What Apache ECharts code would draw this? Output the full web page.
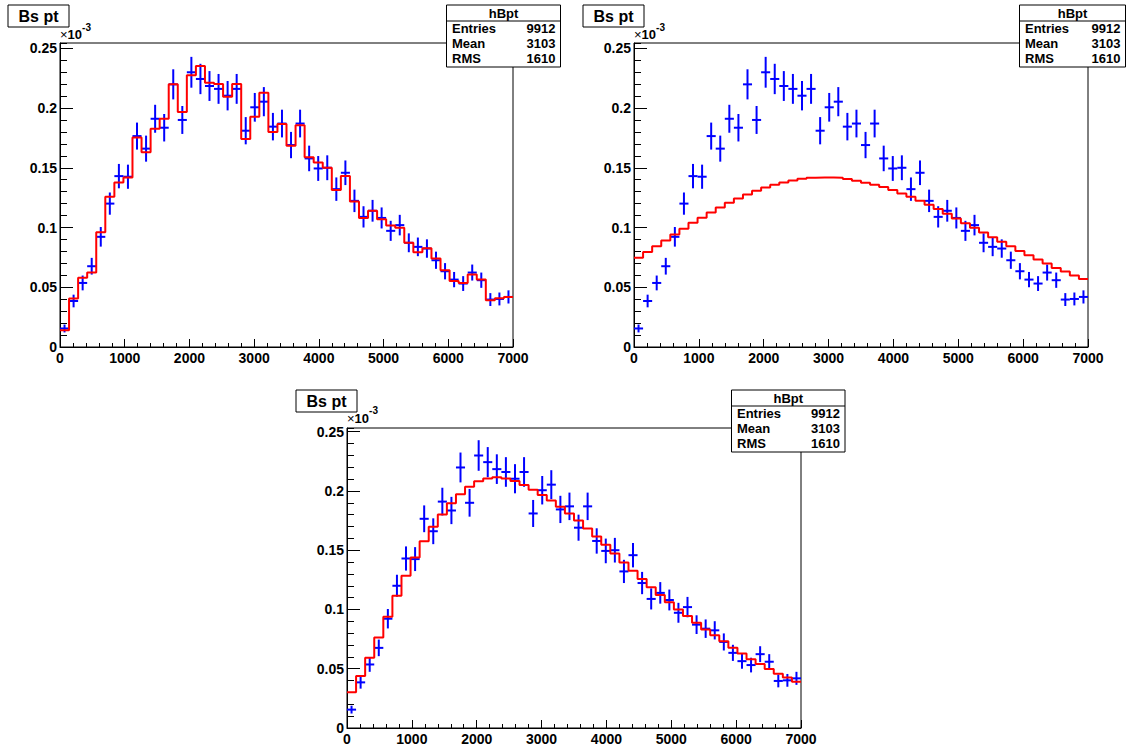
<!DOCTYPE html>
<html><head><meta charset="utf-8">
<script src="https://cdn.jsdelivr.net/npm/echarts@6/dist/echarts.min.js"></script>
<style>html,body{margin:0;padding:0;background:#fff}#c{width:1132px;height:746px}</style>
</head><body><div id="c"></div>
<script>
// ---- data (values in units of 1e-3) ----
const xMin = 0, xMax = 7000, nBins = 50;
const xTickStep = 1000;
const yTickStep = 0.05;
const dataVals = [0.0155,0.0385,0.0536,0.0676,0.0922,0.120,0.143,0.1425,0.1765,0.166,
  0.191,0.1835,0.2198,0.190,0.2299,0.2243,0.2184,0.216,0.2103,0.216,
  0.181,0.2006,0.2053,0.1844,0.187,0.169,0.187,0.1578,0.1494,0.150,
  0.1321,0.1458,0.1223,0.1089,0.114,0.108,0.0972,0.102,0.0872,0.0838,
  0.0824,0.0726,0.0634,0.0564,0.0531,0.0623,0.0559,0.0397,0.0402,0.0419];
const dataErrs = [0.0033,0.0053,0.0062,0.0070,0.0082,0.0093,0.0102,0.0101,0.0113,0.0109,
  0.0117,0.0115,0.0126,0.0117,0.0129,0.0127,0.0125,0.0125,0.0123,0.0125,
  0.0114,0.0120,0.0122,0.0115,0.0116,0.0110,0.0116,0.0107,0.0104,0.0104,
  0.0098,0.0103,0.0094,0.0089,0.0091,0.0088,0.0084,0.0086,0.0079,0.0078,
  0.0077,0.0072,0.0068,0.0064,0.0062,0.0067,0.0064,0.0054,0.0054,0.0055];
const fit1 = [0.014,0.0405,0.058,0.0623,0.0961,0.1257,0.1377,0.1419,0.1754,0.163,
  0.1827,0.191,0.2198,0.1966,0.2274,0.2352,0.2212,0.220,0.2095,0.220,
  0.174,0.1927,0.2128,0.1799,0.1866,0.1684,0.1855,0.1587,0.1545,0.150,
  0.1313,0.143,0.1218,0.108,0.114,0.107,0.1017,0.0997,0.0872,0.0793,
  0.0827,0.074,0.0642,0.0553,0.0536,0.0606,0.0564,0.0391,0.0408,0.0419];
const fit2 = [0.0746,0.0796,0.0844,0.0891,0.0941,0.0989,0.1039,0.1081,0.1126,0.1168,
  0.1207,0.1243,0.1277,0.1307,0.1335,0.1358,0.1377,0.1394,0.1408,0.1416,
  0.1419,0.1419,0.1416,0.1405,0.1391,0.1374,0.1358,0.1338,0.1313,0.1285,
  0.1257,0.1223,0.119,0.1154,0.1115,0.1075,0.1036,0.0997,0.0958,0.0919,
  0.088,0.0844,0.0804,0.0768,0.0732,0.0698,0.0662,0.0631,0.0598,0.057];
const fit3 = [0.0302,0.0439,0.0592,0.0763,0.0939,0.1115,0.1285,0.1439,0.1575,0.1698,
  0.1802,0.1897,0.1972,0.2036,0.2081,0.2106,0.2115,0.2106,0.2084,0.205,
  0.2011,0.1966,0.1919,0.1866,0.181,0.1751,0.1684,0.1615,0.1545,0.1472,
  0.1397,0.1327,0.1257,0.1187,0.1123,0.1061,0.1,0.0944,0.0888,0.0832,
  0.0782,0.0732,0.0676,0.0628,0.0581,0.0539,0.0497,0.0458,0.0425,0.0391];
const titleText = 'Bs pt';
const histName = 'hBpt';
const statLabels = ['Entries','Mean','RMS'];
const statValues = ['9912','3103','1610'];
const yExpLabel = ['×','10','-3'];

// ---- layout ----
const FONT = '"Liberation Sans", Arial, Helvetica, sans-serif';
const panels = [
  {grid:{left:60,top:43,width:453,height:304}, ymax:0.2544, fit:fit1, title:[8,5], stats:[446.5,5,114]},
  {grid:{left:634,top:43,width:454,height:304}, ymax:0.2544, fit:fit2, title:[583,5], stats:[1019.5,5,106]},
  {grid:{left:347,top:428,width:454,height:301}, ymax:0.2531, fit:fit3, title:[296,390], stats:[731.5,390,113.5]}
];

const binW = (xMax - xMin) / nBins;
const crossData = dataVals.map((v,i)=>[xMin + (i+0.5)*binW, v, dataErrs[i], binW/2]);
function stepData(arr){
  const d = arr.map((v,i)=>[xMin + i*binW, v]);
  d.push([xMax, arr[arr.length-1]]);
  return d;
}

const grid=[], xAxis=[], yAxis=[], series=[], graphic=[];
panels.forEach((p,k)=>{
  grid.push(Object.assign({show:true, borderColor:'#000', borderWidth:1, backgroundColor:'transparent', containLabel:false}, p.grid));
  xAxis.push({type:'value', gridIndex:k, min:xMin, max:xMax, interval:xTickStep,
    axisLine:{show:true, onZero:false, lineStyle:{color:'#000', width:1}},
    axisTick:{show:true, inside:true, length:8, lineStyle:{color:'#000'}},
    minorTick:{show:true, splitNumber:5, length:4, lineStyle:{color:'#000'}},
    splitLine:{show:false},
    axisLabel:{show:true, margin:4, color:'#000', fontSize:14, fontWeight:'bold', fontFamily:FONT,
      showMinLabel:true, showMaxLabel:true, formatter:(v)=>String(Math.round(v))}
  });
  yAxis.push({type:'value', gridIndex:k, position:'left', min:0, max:p.ymax, interval:yTickStep,
    axisLine:{show:true, onZero:false, lineStyle:{color:'#000', width:1}},
    axisTick:{show:true, inside:true, length:13, lineStyle:{color:'#000'}},
    splitLine:{show:false},
    axisLabel:{show:true, margin:3, color:'#000', fontSize:14, fontWeight:'bold', fontFamily:FONT,
      showMaxLabel:false,
      formatter:(v)=> v > 0.25000001 ? '' : String(+v.toFixed(2))},
    name:'{x|'+yExpLabel[0]+'}{b|'+yExpLabel[1]+'}{s|'+yExpLabel[2]+'}',
    nameLocation:'end', nameGap:1,
    nameTextStyle:{align:'left', verticalAlign:'bottom', color:'#000', fontFamily:FONT,
      rich:{
        x:{fontSize:13, fontFamily:FONT, color:'#000', padding:[6,0,0,0]},
        b:{fontSize:13, fontWeight:'bold', fontFamily:FONT, color:'#000', padding:[6,0,0,0]},
        s:{fontSize:10, fontWeight:'bold', fontFamily:FONT, color:'#000', verticalAlign:'top', padding:[0,0,0,0]}
      }}
  });
  yAxis.push({type:'value', gridIndex:k, position:'left', min:0, max:p.ymax, interval:yTickStep/5,
    axisLine:{show:false}, axisLabel:{show:false}, splitLine:{show:false},
    axisTick:{show:true, inside:true, length:7, lineStyle:{color:'#000'}}
  });
  series.push({type:'custom', xAxisIndex:k, yAxisIndex:2*k, z:3, silent:true,
    renderItem:(params, api)=>{
      const x=api.value(0), y=api.value(1), e=api.value(2), hw=api.value(3);
      const a=api.coord([x-hw,y]), b=api.coord([x+hw,y]);
      const c=api.coord([x,y-e]), d=api.coord([x,y+e]);
      const st={stroke:'#0000ff', lineWidth:2};
      return {type:'group', children:[
        {type:'line', shape:{x1:a[0],y1:a[1],x2:b[0],y2:b[1]}, style:st},
        {type:'line', shape:{x1:c[0],y1:c[1],x2:d[0],y2:d[1]}, style:st}
      ]};
    },
    data:crossData
  });
  series.push({type:'line', xAxisIndex:k, yAxisIndex:2*k, z:4, step:'end', symbol:'none', silent:true,
    lineStyle:{color:'#ff0000', width:2}, data:stepData(p.fit)});

  // title box
  const [tx,ty] = p.title;
  graphic.push({type:'group', z:100, children:[
    {type:'rect', shape:{x:tx,y:ty,width:61,height:22}, style:{fill:'#fff', stroke:'#000', lineWidth:1}},
    {type:'text', style:{text:titleText, x:tx+30.5, y:ty+11.5, align:'center', verticalAlign:'middle',
      fontSize:16, fontWeight:'bold', fontFamily:FONT, fill:'#000'}}
  ]});
  // stats box
  const [sx,sy,sw] = p.stats;
  const ch = [
    {type:'rect', shape:{x:sx,y:sy,width:sw,height:62}, style:{fill:'#fff', stroke:'#000', lineWidth:1}},
    {type:'line', shape:{x1:sx,y1:sy+16,x2:sx+sw,y2:sy+16}, style:{stroke:'#000', lineWidth:1}},
    {type:'text', style:{text:histName, x:sx+sw/2, y:sy+8.5, align:'center', verticalAlign:'middle',
      fontSize:13, fontWeight:'bold', fontFamily:FONT, fill:'#000'}}
  ];
  statLabels.forEach((lab,i)=>{
    ch.push({type:'text', style:{text:lab, x:sx+5.5, y:sy+23.5+15*i, align:'left', verticalAlign:'middle',
      fontSize:13, fontWeight:'bold', fontFamily:FONT, fill:'#000'}});
    ch.push({type:'text', style:{text:statValues[i], x:sx+sw-5, y:sy+23.5+15*i, align:'right', verticalAlign:'middle',
      fontSize:13, fontWeight:'bold', fontFamily:FONT, fill:'#000'}});
  });
  graphic.push({type:'group', z:100, children:ch});
});

const chart = echarts.init(document.getElementById('c'), null, {renderer:'svg'});
chart.setOption({animation:false, backgroundColor:'#fff', grid, xAxis, yAxis, series, graphic});
</script></body></html>
